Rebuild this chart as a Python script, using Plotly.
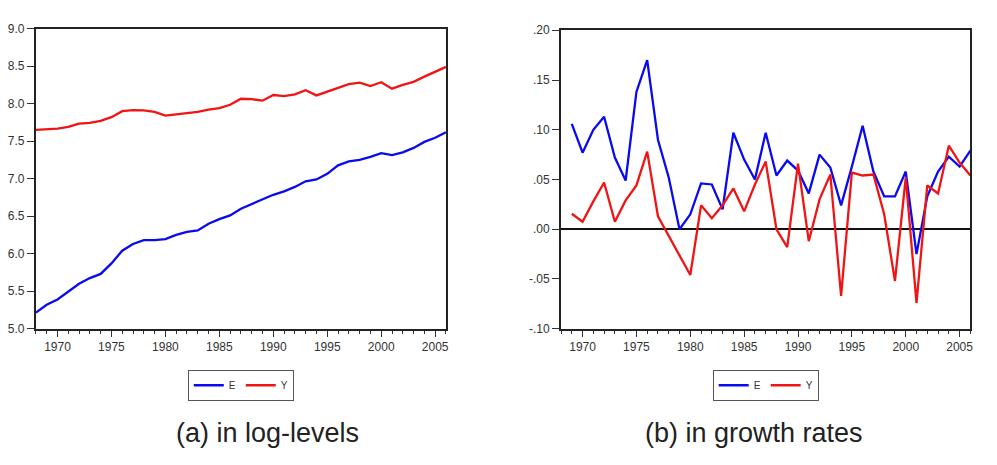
import plotly.graph_objects as go

years = list(range(1968, 2007))
growth_years = list(range(1969, 2007))

E_level = [5.215, 5.32, 5.39, 5.49, 5.60, 5.675, 5.73, 5.87, 6.04, 6.13,
           6.18, 6.18, 6.195, 6.25, 6.29, 6.31, 6.40, 6.46, 6.51, 6.60,
           6.66, 6.73, 6.785, 6.83, 6.89, 6.965, 6.99, 7.065, 7.177, 7.23,
           7.25, 7.29, 7.34, 7.315, 7.35, 7.41, 7.49, 7.545, 7.62]
Y_level = [7.651, 7.66, 7.668, 7.69, 7.735, 7.745, 7.77, 7.82, 7.90, 7.915,
           7.91, 7.89, 7.84, 7.858, 7.87, 7.89, 7.92, 7.94, 7.985, 8.065,
           8.06, 8.04, 8.115, 8.10, 8.125, 8.18, 8.11, 8.16, 8.21, 8.26,
           8.28, 8.235, 8.285, 8.20, 8.25, 8.29, 8.36, 8.43, 8.49]

E_growth = [0.106, 0.077, 0.100, 0.113, 0.072, 0.049, 0.138, 0.170, 0.090, 0.052,
            0.000, 0.015, 0.046, 0.045, 0.020, 0.097, 0.070, 0.050, 0.097, 0.054,
            0.069, 0.059, 0.036, 0.075, 0.062, 0.024, 0.063, 0.104, 0.058, 0.033,
            0.033, 0.058, -0.025, 0.033, 0.058, 0.073, 0.063, 0.079]
Y_growth = [0.0156, 0.0075, 0.028, 0.047, 0.0075, 0.029, 0.044, 0.078, 0.013, -0.007,
            -0.027, -0.046, 0.024, 0.011, 0.024, 0.041, 0.018, 0.045, 0.068, 0.000,
            -0.018, 0.066, -0.012, 0.030, 0.055, -0.067, 0.057, 0.054, 0.055, 0.015,
            -0.052, 0.052, -0.074, 0.044, 0.036, 0.084, 0.067, 0.054]

lev_ticks = [5.0, 5.5, 6.0, 6.5, 7.0, 7.5, 8.0, 8.5, 9.0]
lev_labels = ["5.0", "5.5", "6.0", "6.5", "7.0", "7.5", "8.0", "8.5", "9.0"]
gr_ticks = [-0.10, -0.05, 0.0, 0.05, 0.10, 0.15, 0.20]
gr_labels = ["-.10", "-.05", ".00", ".05", ".10", ".15", ".20"]

captions = ["(a) in log-levels", "(b) in growth rates"]

BLUE = "#0a0af0"
RED = "#f01414"
FONT = "Liberation Sans, Arial, sans-serif"

fig = go.Figure()
fig.add_trace(go.Scatter(x=years, y=E_level, mode="lines", name="E",
                         line=dict(color=BLUE, width=2.3), xaxis="x", yaxis="y",
                         legend="legend"))
fig.add_trace(go.Scatter(x=years, y=Y_level, mode="lines", name="Y",
                         line=dict(color=RED, width=2.3), xaxis="x", yaxis="y",
                         legend="legend"))
fig.add_trace(go.Scatter(x=growth_years, y=E_growth, mode="lines", name="E",
                         line=dict(color=BLUE, width=2.3), xaxis="x2", yaxis="y2",
                         legend="legend2"))
fig.add_trace(go.Scatter(x=growth_years, y=Y_growth, mode="lines", name="Y",
                         line=dict(color=RED, width=2.3), xaxis="x2", yaxis="y2",
                         legend="legend2"))

W, H = 997, 465

def xax(domain, anchor):
    return dict(domain=domain, anchor=anchor, range=[1968, 2006],
                tick0=1970, dtick=5, ticks="outside", ticklen=6, tickwidth=1.2,
                tickcolor="#333",
                minor=dict(dtick=1, tick0=1968, ticks="outside", ticklen=3,
                           tickwidth=1, tickcolor="#333"),
                showline=True, mirror=True, linecolor="#222", linewidth=2,
                showgrid=False, zeroline=False,
                tickfont=dict(family=FONT, size=12, color="#333"))

def yax(domain, anchor, rng, tv, tt, zero=False):
    return dict(domain=domain, anchor=anchor, range=rng,
                tickvals=tv, ticktext=tt, ticks="outside", ticklen=7,
                tickwidth=1.2, tickcolor="#333",
                showline=True, mirror=True, linecolor="#222", linewidth=2,
                showgrid=False, zeroline=zero, zerolinecolor="#111",
                zerolinewidth=1.5,
                tickfont=dict(family=FONT, size=12, color="#333"))

leg_common = dict(orientation="h", xanchor="center", y=1 - 374 / H,
                  yanchor="top", bordercolor="#555", borderwidth=1,
                  font=dict(family=FONT, size=10, color="#333"),
                  bgcolor="white", itemwidth=30)

fig.update_layout(
    width=W, height=H,
    margin=dict(l=0, r=0, t=0, b=0),
    paper_bgcolor="white", plot_bgcolor="white",
    xaxis=xax([36 / W, 447.3 / W], "y"),
    yaxis=yax([1 - 331.7 / H, 1 - 22.3 / H], "x", [5.0, 9.0], lev_ticks, lev_labels),
    xaxis2=xax([562.7 / W, 973.3 / W], "y2"),
    yaxis2=yax([1 - 331.7 / H, 1 - 24 / H], "x2", [-0.10, 0.20], gr_ticks, gr_labels, zero=True),
    legend=dict(x=241.5 / W, **leg_common),
    legend2=dict(x=768 / W, **leg_common),
    annotations=[
        dict(text=captions[0], x=175 / W, y=1 - 439 / H, xref="paper", yref="paper",
             showarrow=False, xanchor="left", yanchor="middle",
             font=dict(family=FONT, size=27, color="#222")),
        dict(text=captions[1], x=868 / W, y=1 - 439 / H, xref="paper", yref="paper",
             showarrow=False, xanchor="right", yanchor="middle",
             font=dict(family=FONT, size=27, color="#222")),
    ],
)

fig.write_html("out.html", config={"displayModeBar": False},
               post_script="document.body.style.margin='0px';")
